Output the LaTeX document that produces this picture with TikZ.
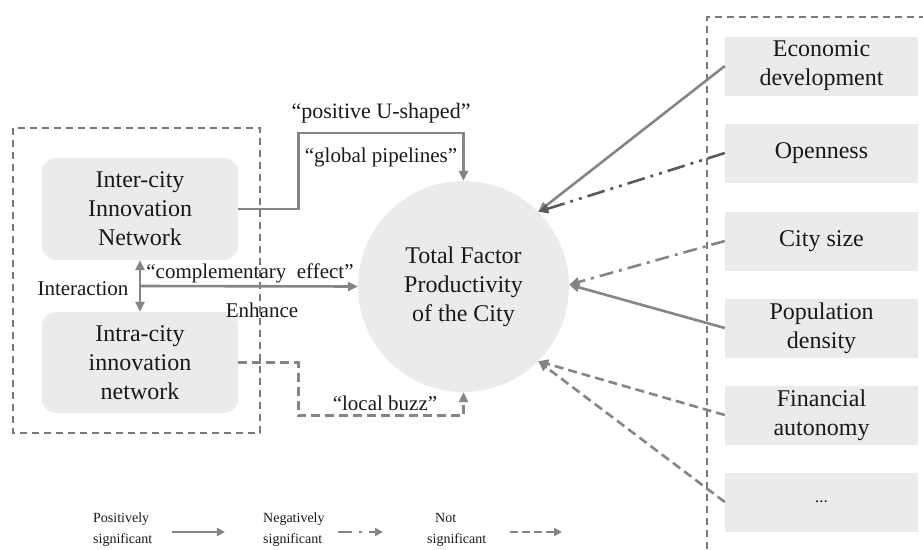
\documentclass[tikz,border=0pt]{standalone}
\usepackage{fontspec}
\setmainfont{Liberation Serif}
\usetikzlibrary{arrows.meta,calc}
\definecolor{boxfill}{HTML}{EBEBEB}
\definecolor{arrowgray}{HTML}{858585}
\definecolor{darkarrow}{HTML}{5A5A5A}
\definecolor{framegray}{HTML}{7A7A7A}
\tikzset{
  bigtext/.style={font=\fontsize{24}{29}\selectfont, align=center, text=black!90},
  labeltext/.style={font=\fontsize{21}{25}\selectfont, text=black!90, inner sep=0pt},
  legtext/.style={font=\fontsize{14}{21}\selectfont, align=left, text=black!90, inner sep=0pt, anchor=west},
  netbox/.style={bigtext, fill=boxfill, rounded corners=14pt, minimum width=196pt, minimum height=102pt, inner sep=0pt},
  factbox/.style={bigtext, fill=boxfill, minimum width=193pt, minimum height=59pt, inner sep=0pt},
  framebox/.style={draw=framegray, line width=1.2pt, dash pattern=on 7pt off 5pt},
  posarrow/.style={draw=arrowgray, line width=2.6pt, -{Triangle[length=10pt,width=9pt]}},
  negarrow/.style={posarrow, dash pattern=on 14pt off 6pt on 3pt off 6pt},
  negdarkarrow/.style={posarrow, draw=darkarrow, dash pattern=on 18pt off 6pt on 3pt off 6pt on 3pt off 6pt},
  nsarrow/.style={posarrow, dash pattern=on 9pt off 5pt},
  legarrow/.style={draw=arrowgray, line width=2.4pt, -{Triangle[length=8pt,width=8pt]}},
}
\begin{document}
\begin{tikzpicture}[x=1pt,y=-1pt]
\useasboundingbox (0,0) rectangle (923,549);

% frames
\draw[framebox] (13,128) rectangle (260,433);
\draw[framebox] (707,549) -- (707,17) -- (923,17);

% left network boxes
\node[netbox] (inter) at (140,209) {Inter-city\\Innovation\\Network};
\node[netbox, minimum height=101pt] (intra) at (140,362.5) {Intra-city\\innovation\\network};

% central circle
\node[bigtext, circle, fill=boxfill, minimum size=211pt, inner sep=0pt] (tfp) at (463.5,286.5) {Total Factor\\Productivity\\of the City};

% right factor boxes
\node[factbox] (eco) at (821.5,66) {Economic\\development};
\node[factbox] (open) at (821.5,153) {Openness};
\node[factbox] (size) at (821.5,241) {City size};
\node[factbox] (pop) at (821.5,328) {Population\\density};
\node[factbox] (fin) at (821.5,415) {Financial\\autonomy};
\node[factbox] (more) at (821.5,502) {\fontsize{17}{20}\selectfont ...};

% left connectors
\draw[posarrow] (inter.east) -- ++(60,0) -- ++(0,-76) -| (tfp.north);
\draw[nsarrow] (intra.east) -- ++(60,0) -- ++(0,53) -| (tfp.south);
\draw[posarrow, {Triangle[length=10pt,width=9pt]}-{Triangle[length=10pt,width=9pt]}] (inter.south) -- (intra.north);
\coordinate (mid) at ($(inter.south)!0.5!(intra.north)$);
\draw[posarrow] (mid) -- (tfp.west);

% labels
\node[labeltext, font=\fontsize{22}{26}\selectfont] (lu) at (381,113) {“positive U-shaped”};
\node[labeltext] (lg) at (381,157) {“global pipelines”};
\node[labeltext] (lc) at (250,273) {“complementary\ \ effect”};
\node[labeltext] (li) at (83,289) {Interaction};
\node[labeltext] (le) at (262,310) {Enhance};
\node[labeltext] (ll) at (385,403) {“local buzz”};

% right connectors
\draw[posarrow] (eco.west) -- (tfp.45);
\draw[negdarkarrow] (open.west) -- (tfp.45);
\draw[negarrow] (size.west) -- (tfp.1);
\draw[posarrow] (pop.west) -- (tfp.1);
\draw[nsarrow] (fin.west) -- (tfp.-45);
\draw[nsarrow] (more.west) -- (tfp.-45);

% legend
\node[legtext] (lp) at (93,529.5) {Positively\\significant};
\coordinate (lpa) at (172,532); \coordinate (lpb) at (225,532);
\draw[legarrow] (lpa) -- (lpb);
\node[legtext] (ln) at (263,529.5) {Negatively\\significant};
\coordinate (lna) at (338,532); \coordinate (lnb) at (383,532);
\draw[legarrow, dash pattern=on 14pt off 7pt on 2.5pt off 7pt] (lna) -- (lnb);
\node[legtext] (lns) at (427,529.5) {\hspace*{8pt}Not\\significant};
\coordinate (lsa) at (510,532); \coordinate (lsb) at (562,532);
\draw[legarrow, dash pattern=on 8pt off 4pt] (lsa) -- (lsb);
\end{tikzpicture}
\end{document}
